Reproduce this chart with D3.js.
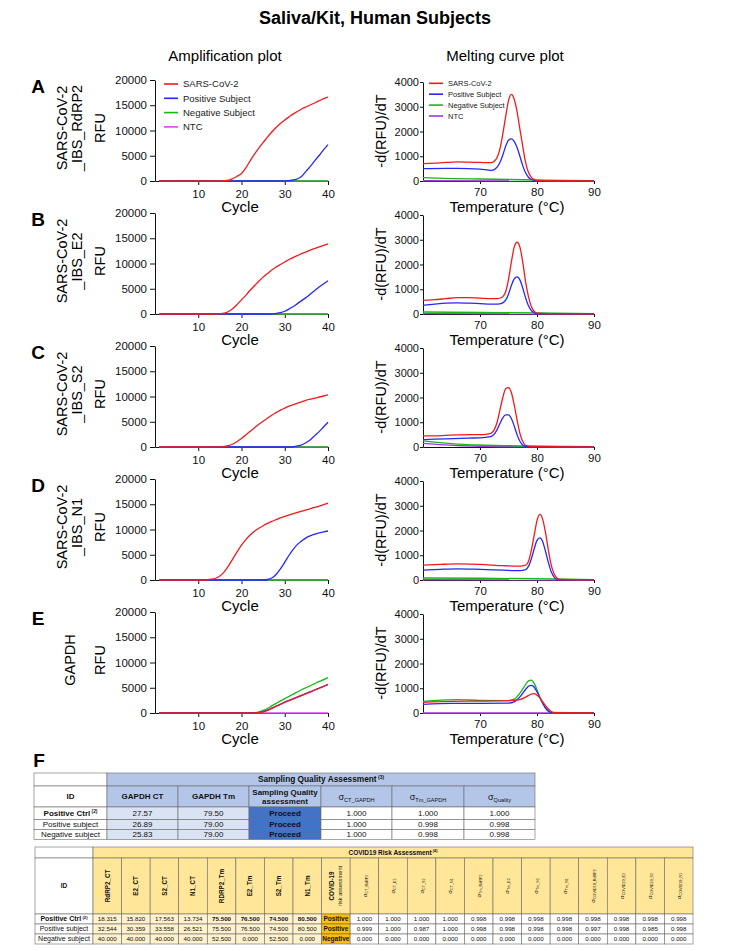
<!DOCTYPE html>
<html><head><meta charset="utf-8">
<script src="https://cdn.jsdelivr.net/npm/d3@7"></script>
<style>body{margin:0;background:#fff} svg{display:block;font-family:"Liberation Sans",Arial,sans-serif}</style>
</head><body><svg id="c" width="751" height="951"></svg>
<script>
// ---------------- DATA ----------------
const mainTitle = "Saliva/Kit, Human Subjects";
const colTitles = ["Amplification plot","Melting curve plot"];
const seriesNames = ["SARS-CoV-2","Positive Subject","Negative Subject","NTC"];
const rowLetters = ["A","B","C","D","E"];
const rowTitles = [["SARS-CoV-2","_IBS_RdRP2"],["SARS-CoV-2","_IBS_E2"],["SARS-CoV-2","_IBS_S2"],["SARS-CoV-2","_IBS_N1"],["GAPDH"]];
const ampTicksX = [10,20,30,40];
const ampTicksY = [0,5000,10000,15000,20000];
const meltTicksX = [70,80,90];
const meltTicksY = [0,1000,2000,3000,4000];

// Amplification curves: [cycle, RFU]
const ampA_red = [[1,0],[14,0],[16,50],[17,150],[18,500],[19,950],[20,1500],[21,2600],[22,4000],[23,5300],[24,6500],[25,7600],[26,8700],[27,9700],[28,10600],[29,11400],[30,12100],[31,12700],[32,13300],[33,13800],[34,14300],[35,14700],[36,15100],[37,15500],[38,15900],[39,16300],[40,16600]];
const ampA_blue = [[1,0],[30,0],[31,80],[32,200],[33,450],[34,1000],[35,2000],[36,3000],[37,4100],[38,5100],[39,6200],[40,7200]];
const ampA_green = [[1,0],[40,0]];
const ampA_ntc = [[1,0],[40,0]];

const ampB_red = [[1,0],[14,0],[15,50],[16,150],[17,500],[18,1100],[19,1900],[20,2800],[21,3700],[22,4700],[23,5600],[24,6500],[25,7300],[26,8000],[27,8700],[28,9300],[29,9800],[30,10300],[31,10800],[32,11200],[33,11600],[34,12000],[35,12300],[36,12700],[37,13000],[38,13300],[39,13600],[40,13900]];
const ampB_blue = [[1,0],[27,0],[28,100],[29,250],[30,550],[31,1000],[32,1500],[33,2100],[34,2700],[35,3300],[36,4000],[37,4700],[38,5400],[39,6000],[40,6600]];
const ampB_green = [[1,0],[40,0]];
const ampB_ntc = [[1,0],[40,0]];

const ampC_red = [[1,0],[14,0],[15,40],[16,100],[17,250],[18,600],[19,1100],[20,1700],[21,2400],[22,3100],[23,3800],[24,4500],[25,5100],[26,5700],[27,6300],[28,6800],[29,7300],[30,7700],[31,8100],[32,8400],[33,8700],[34,9000],[35,9300],[36,9500],[37,9700],[38,9900],[39,10100],[40,10300]];
const ampC_blue = [[1,0],[31,0],[32,50],[33,200],[34,450],[35,900],[36,1500],[37,2300],[38,3100],[39,4000],[40,4900]];
const ampC_green = [[1,0],[40,0]];
const ampC_ntc = [[1,0],[40,0]];

const ampD_red = [[1,0],[11,0],[12,50],[13,150],[14,350],[15,800],[16,1600],[17,2800],[18,4200],[19,5600],[20,6900],[21,8000],[22,8900],[23,9650],[24,10250],[25,10750],[26,11200],[27,11600],[28,11950],[29,12300],[30,12600],[32,13150],[34,13650],[36,14150],[38,14650],[40,15200]];
const ampD_blue = [[1,0],[25,0],[26,100],[27,400],[28,1100],[29,2200],[30,3500],[31,4900],[32,6100],[33,7100],[34,7800],[35,8400],[36,8800],[37,9100],[38,9350],[39,9550],[40,9700]];
const ampD_green = [[1,0],[40,0]];
const ampD_ntc = [[1,0],[40,0]];

const ampE_red = [[1,0],[23,0],[24,50],[25,200],[26,500],[27,900],[28,1300],[29,1700],[30,2100],[31,2450],[32,2800],[33,3150],[34,3500],[35,3850],[36,4200],[37,4550],[38,4900],[39,5250],[40,5600]];
const ampE_blue = [[1,0],[23,0],[24,60],[25,250],[26,550],[27,950],[28,1350],[29,1750],[30,2150],[31,2500],[32,2850],[33,3200],[34,3550],[35,3900],[36,4250],[37,4600],[38,4950],[39,5300],[40,5700]];
const ampE_green = [[1,0],[22,0],[23,50],[24,200],[25,500],[26,900],[27,1400],[28,1900],[29,2400],[30,2850],[31,3300],[32,3750],[33,4200],[34,4650],[35,5050],[36,5450],[37,5850],[38,6250],[39,6600],[40,7000]];
const ampE_ntc = [[1,0],[40,0]];

// Melting curves: [temperature, -d(RFU)/dT]
const meltA_red = [[60,700],[62,720],[64,750],[66,770],[68,760],[70,750],[72,740],[72.5,800],[73,950],[73.5,1300],[74,1900],[74.5,2600],[75,3250],[75.5,3500],[76,3300],[76.5,2800],[77,2100],[77.5,1400],[78,750],[78.5,350],[79,150],[79.5,60],[80,20],[82,10],[90,5]];
const meltA_blue = [[60,500],[64,510],[66,510],[70,480],[72,430],[72.5,460],[73,560],[73.5,750],[74,1050],[74.5,1400],[75,1650],[75.5,1700],[76,1600],[76.5,1350],[77,1000],[77.5,620],[78,330],[78.5,150],[79,60],[80,10],[90,5]];
const meltA_green = [[60,140],[65,100],[70,80],[75,60],[80,40],[85,20],[90,10]];
const meltA_ntc = [[60,10],[90,0]];

const meltB_red = [[60,550],[62,580],[64,620],[66,660],[68,660],[70,640],[72,620],[73,620],[74,700],[74.5,900],[75,1400],[75.5,2100],[76,2700],[76.5,2900],[77,2700],[77.5,2100],[78,1300],[78.5,700],[79,300],[79.5,110],[80,30],[82,10],[90,5]];
const meltB_blue = [[60,350],[62,400],[64,440],[66,450],[68,440],[70,420],[72,400],[73,400],[74,450],[74.5,560],[75,800],[75.5,1150],[76,1420],[76.5,1500],[77,1380],[77.5,1050],[78,650],[78.5,330],[79,140],[79.5,50],[80,10],[90,5]];
const meltB_green = [[60,80],[70,60],[80,40],[90,10]];
const meltB_ntc = [[60,15],[90,0]];

const meltC_red = [[60,450],[62,450],[64,470],[66,490],[68,500],[70,500],[71,510],[72,560],[72.5,700],[73,1000],[73.5,1500],[74,2000],[74.5,2350],[75,2400],[75.5,2200],[76,1700],[76.5,1100],[77,550],[77.5,220],[78,70],[79,15],[90,5]];
const meltC_blue = [[60,300],[64,330],[68,360],[70,370],[71,390],[72,430],[72.5,520],[73,700],[73.5,950],[74,1180],[74.5,1300],[75,1300],[75.5,1150],[76,850],[76.5,500],[77,230],[77.5,80],[78,20],[90,5]];
const meltC_green = [[60,250],[62,200],[65,140],[70,80],[75,50],[80,30],[90,10]];
const meltC_ntc = [[60,150],[63,100],[66,60],[70,30],[75,10],[90,0]];

const meltD_red = [[60,600],[63,630],[66,650],[70,630],[74,580],[77,560],[78,600],[78.5,750],[79,1200],[79.5,1800],[80,2400],[80.5,2650],[81,2450],[81.5,1900],[82,1200],[82.5,600],[83,250],[83.5,80],[84,20],[90,5]];
const meltD_blue = [[60,400],[63,430],[66,450],[70,430],[74,400],[77,380],[78,420],[78.5,550],[79,850],[79.5,1250],[80,1600],[80.5,1700],[81,1550],[81.5,1150],[82,700],[82.5,330],[83,120],[83.5,30],[84,5],[90,5]];
const meltD_green = [[60,80],[70,70],[80,50],[90,10]];
const meltD_ntc = [[60,10],[90,0]];

const meltE_red = [[60,430],[65,470],[70,480],[75,500],[77,540],[78,640],[79,760],[79.5,780],[80,720],[80.5,620],[81,450],[81.5,300],[82,160],[82.5,60],[83,15],[90,5]];
const meltE_blue = [[60,350],[65,390],[70,390],[75,400],[76,450],[77,650],[78,950],[78.5,1080],[79,1120],[79.5,1050],[80,850],[80.5,620],[81,400],[81.5,200],[82,70],[82.5,15],[90,5]];
const meltE_green = [[60,470],[63,520],[66,540],[70,510],[75,500],[76,560],[77,800],[78,1150],[78.5,1300],[79,1330],[79.5,1200],[80,940],[80.5,650],[81,400],[81.5,200],[82,80],[82.5,20],[90,5]];
const meltE_ntc = [[60,0],[90,0]];

// Table F (1): Sampling Quality Assessment
const t1Title = "Sampling Quality Assessment";
const t1Headers = ["GAPDH CT","GAPDH Tm","Sampling Quality|assessment"];
const t1SigmaHeaders = ["CT_GAPDH","Tm_GAPDH","Quality"];
const t1Ids = ["Positive Ctrl","Positive subject","Negative subject"];
const t1GapdhCT = ["27.57","26.89","25.83"];
const t1GapdhTm = ["79.50","79.00","79.00"];
const t1Assess = ["Proceed","Proceed","Proceed"];
const t1SigmaCT = ["1.000","1.000","1.000"];
const t1SigmaTm = ["1.000","0.998","0.998"];
const t1SigmaQ = ["1.000","0.998","0.998"];

// Table F (2): COVID19 Risk Assessment
const t2Title = "COVID19 Risk Assessment";
const t2ValHeaders = ["RdRP2_CT","E2_CT","S2_CT","N1_CT","RDRP2_Tm","E2_Tm","S2_Tm","N1_Tm"];
const t2SigmaHeaders = ["CT_RdRP2","CT_E2","CT_S2","CT_N1","Tm_RdRP2","Tm_E2","Tm_S2","Tm_N1","COVID19_RdRP2","COVID19_E2","COVID19_S2","COVID19_N1"];
const t2Ids = ["Positive Ctrl","Positive subject","Negative subject"];
const t2CT = [["18.315","15.820","17.563","13.734"],["32.544","30.359","33.558","26.521"],["40.000","40.000","40.000","40.000"]];
const t2Tm = [["75.500","76.500","74.500","80.500"],["75.500","76.500","74.500","80.500"],["52.500","0.000","52.500","0.000"]];
const t2Risk = ["Positive","Positive","Negative"];
const t2Sigma = [
  ["1.000","1.000","1.000","1.000","0.998","0.998","0.998","0.998","0.998","0.998","0.998","0.998"],
  ["0.999","1.000","0.987","1.000","0.998","0.998","0.998","0.998","0.997","0.998","0.985","0.998"],
  ["0.000","0.000","0.000","0.000","0.000","0.000","0.000","0.000","0.000","0.000","0.000","0.000"]];

// ---------------- DRAW ----------------
const ampRows = [[ampA_red,ampA_blue,ampA_green,ampA_ntc],[ampB_red,ampB_blue,ampB_green,ampB_ntc],[ampC_red,ampC_blue,ampC_green,ampC_ntc],[ampD_red,ampD_blue,ampD_green,ampD_ntc],[ampE_red,ampE_blue,ampE_green,ampE_ntc]];
const meltRows = [[meltA_red,meltA_blue,meltA_green,meltA_ntc],[meltB_red,meltB_blue,meltB_green,meltB_ntc],[meltC_red,meltC_blue,meltC_green,meltC_ntc],[meltD_red,meltD_blue,meltD_green,meltD_ntc],[meltE_red,meltE_blue,meltE_green,meltE_ntc]];
const colAmp = ["#f21b1b","#2626ff","#14b814","#dd44ee"];
const colMelt = ["#f21b1b","#2626ff","#14b814","#a633e0"];

const svg = d3.select("#c");
svg.append("text").attr("x",375).attr("y",18).attr("dy","0.35em").attr("text-anchor","middle")
  .attr("font-size",18).attr("font-weight","bold").text(mainTitle);
svg.append("text").attr("x",225).attr("y",56).attr("dy","0.35em").attr("text-anchor","middle").attr("font-size",15).text(colTitles[0]);
svg.append("text").attr("x",505).attr("y",56).attr("dy","0.35em").attr("text-anchor","middle").attr("font-size",15).text(colTitles[1]);

const rowH = 133;
const xAmp = d3.scaleLinear().domain([0,40]).range([155,328]);
const xMelt = d3.scaleLinear().domain([60,90]).range([423,594]);
const yAmp = d3.scaleLinear().domain([0,20000]).range([181,80]);
const yMelt = d3.scaleLinear().domain([0,4000]).range([181,82]);

const lineAmp = d3.line().x(d=>xAmp(d[0])).y(d=>yAmp(d[1])).curve(d3.curveMonotoneX);
const lineMelt = d3.line().x(d=>xMelt(d[0])).y(d=>yMelt(d[1])).curve(d3.curveMonotoneX);

function styleAxis(g, fs){
  g.selectAll("text").attr("font-size",fs).attr("fill","#111").attr("font-family",'"Liberation Sans",Arial,sans-serif');
  g.selectAll("path,line").attr("stroke","#111").attr("stroke-width",1);
}

rowLetters.forEach((L,i)=>{
  const g = svg.append("g").attr("transform",`translate(0,${i*rowH})`);
  g.append("text").attr("x",38).attr("y",86).attr("dy","0.35em").attr("text-anchor","middle")
    .attr("font-size",19).attr("font-weight","bold").text(L);
  const t = rowTitles[i];
  if (t.length===2){
    [62,77].forEach((x,k)=>g.append("text").attr("transform",`translate(${x},128) rotate(-90)`).attr("dy","0.35em")
      .attr("text-anchor","middle").attr("font-size",14.5).text(t[k]));
  } else {
    g.append("text").attr("transform",`translate(70,128) rotate(-90)`).attr("dy","0.35em")
      .attr("text-anchor","middle").attr("font-size",14.5).text(t[0]);
  }
  g.append("text").attr("transform",`translate(100,128) rotate(-90)`).attr("dy","0.35em")
    .attr("text-anchor","middle").attr("font-size",14.5).text("RFU");
  g.append("text").attr("transform",`translate(381,131) rotate(-90)`).attr("dy","0.35em")
    .attr("text-anchor","middle").attr("font-size",14.5).text("-d(RFU)/dT");

  const ax = g.append("g").attr("transform",`translate(0,${yAmp(0)})`)
    .call(d3.axisBottom(xAmp).tickValues(ampTicksX).tickSize(4).tickPadding(5).tickSizeOuter(0));
  styleAxis(ax,11.5);
  const ay = g.append("g").attr("transform",`translate(${xAmp(0)},0)`)
    .call(d3.axisLeft(yAmp).tickValues(ampTicksY).tickFormat(d3.format("d")).tickSize(5).tickPadding(3).tickSizeOuter(0));
  styleAxis(ay,11.5);
  g.append("text").attr("x",240).attr("y",yAmp(0)+26).attr("dy","0.35em").attr("text-anchor","middle").attr("font-size",15).text("Cycle");

  const mx = g.append("g").attr("transform",`translate(0,${yMelt(0)})`)
    .call(d3.axisBottom(xMelt).tickValues(meltTicksX).tickSize(3).tickPadding(4).tickSizeOuter(0));
  styleAxis(mx,11.5);
  const my = g.append("g").attr("transform",`translate(${xMelt(60)},0)`)
    .call(d3.axisLeft(yMelt).tickValues(meltTicksY).tickFormat(d3.format("d")).tickSize(3).tickPadding(1).tickSizeOuter(0));
  styleAxis(my,11);
  g.append("text").attr("x",507).attr("y",yMelt(0)+26).attr("dy","0.35em").attr("text-anchor","middle").attr("font-size",15).text("Temperature (°C)");

  [3,2,1,0].forEach(s=>{
    g.append("path").datum(ampRows[i][s]).attr("d",lineAmp).attr("fill","none").attr("stroke",colAmp[s]).attr("stroke-width",1.3);
    g.append("path").datum(meltRows[i][s]).attr("d",lineMelt).attr("fill","none").attr("stroke",colMelt[s]).attr("stroke-width",1.3);
  });

  if (i===0){
    seriesNames.forEach((n,s)=>{
      const yy = 84 + s*14.3;
      g.append("line").attr("x1",164).attr("x2",178).attr("y1",yy).attr("y2",yy).attr("stroke",colAmp[s]).attr("stroke-width",1.6);
      g.append("text").attr("x",183).attr("y",yy).attr("dy","0.35em").attr("font-size",9.5).attr("fill","#222").text(n);
      const ym = 83.3 + s*10.9;
      g.append("line").attr("x1",429).attr("x2",443).attr("y1",ym).attr("y2",ym).attr("stroke",colMelt[s]).attr("stroke-width",1.6);
      g.append("text").attr("x",448).attr("y",ym).attr("dy","0.35em").attr("font-size",7.5).attr("fill","#222").text(n);
    });
  }
});

// ---------------- TABLES ----------------
svg.append("text").attr("x",39).attr("y",760).attr("dy","0.35em").attr("text-anchor","middle")
  .attr("font-size",19).attr("font-weight","bold").text("F");

const tg = svg.append("g");
function cell(x0,y0,x1,y1,fill){
  tg.append("rect").attr("x",x0).attr("y",y0).attr("width",x1-x0).attr("height",y1-y0)
    .attr("fill",fill).attr("stroke","#6a6a6a").attr("stroke-width",0.6);
}
function txt(x,y,s,fs,bold,sup){
  const t = tg.append("text").attr("x",x).attr("y",y).attr("dy","0.35em").attr("text-anchor","middle")
    .attr("font-size",fs).attr("font-weight",bold?"bold":"normal").attr("fill","#111").text(s);
  if (sup){ t.append("tspan").attr("font-size",fs*0.6).attr("dy","-0.6em").text(" "+sup); }
  return t;
}
function sigmaTxt(x,y,sub,fs,rot){
  const t = tg.append("text").attr("text-anchor","middle").attr("font-size",fs).attr("fill","#111").attr("dy","0.35em");
  if (rot) t.attr("transform",`translate(${x},${y}) rotate(-90)`); else t.attr("x",x).attr("y",y);
  t.text("σ");
  t.append("tspan").attr("font-size",fs*0.62).attr("baseline-shift","-25%").text(sub);
}

// Table 1
const c1 = [34,107,178,249,321,392,464,535];
const r1 = [773,786,807,819.5,829.5,839.5];
const blueH = "#b4c6e7", blueL = "#dae3f3", blueD = "#4472c4";
cell(c1[0],r1[0],c1[1],r1[1],"#fff");
cell(c1[1],r1[0],c1[7],r1[1],blueH);
txt((c1[1]+c1[7])/2,(r1[0]+r1[1])/2,t1Title,8.3,true,"(3)");
cell(c1[0],r1[1],c1[1],r1[2],"#fff");
txt((c1[0]+c1[1])/2,(r1[1]+r1[2])/2,"ID",8,true);
t1Headers.forEach((h,k)=>{
  cell(c1[k+1],r1[1],c1[k+2],r1[2],blueH);
  const parts = h.split("|"), cx=(c1[k+1]+c1[k+2])/2, cy=(r1[1]+r1[2])/2;
  if (parts.length===1) txt(cx,cy,parts[0],8,true);
  else { txt(cx,cy-4.5,parts[0],8,true); txt(cx,cy+4.5,parts[1],8,true); }
});
t1SigmaHeaders.forEach((h,k)=>{
  cell(c1[k+4],r1[1],c1[k+5],r1[2],blueH);
  sigmaTxt((c1[k+4]+c1[k+5])/2,(r1[1]+r1[2])/2,h,9,false);
});
t1Ids.forEach((id,r)=>{
  const y0=r1[r+2], y1=r1[r+3], cy=(y0+y1)/2;
  const vals = [t1GapdhCT[r],t1GapdhTm[r],t1Assess[r],t1SigmaCT[r],t1SigmaTm[r],t1SigmaQ[r]];
  const fills = ["#fff",blueL,blueL,blueD,"#fff","#fff","#fff"];
  cell(c1[0],y0,c1[1],y1,fills[0]);
  txt((c1[0]+c1[1])/2,cy,id,8,r===0,r===0?"(2)":null);
  vals.forEach((v,k)=>{
    cell(c1[k+1],y0,c1[k+2],y1,fills[k+1]);
    txt((c1[k+1]+c1[k+2])/2,cy,v,8,k===2);
  });
});

// Table 2
const nCols2 = 21;
const x2 = d3.scaleLinear().domain([0,nCols2]).range([93,693]);
const r2 = [847,858,914,924,934,944];
const yelH = "#ffe699", yelL = "#fff2cc", orange = "#ffc000";
cell(35,r2[0],93,r2[1],"#fff");
cell(93,r2[0],693,r2[1],yelH);
txt(393,(r2[0]+r2[1])/2,t2Title,6.5,true,"(4)");
cell(35,r2[1],93,r2[2],"#fff");
txt(64,(r2[1]+r2[2])/2,"ID",6.5,true);
const hcy = (r2[1]+r2[2])/2;
t2ValHeaders.forEach((h,k)=>{
  cell(x2(k),r2[1],x2(k+1),r2[2],yelH);
  const cx=(x2(k)+x2(k+1))/2;
  tg.append("text").attr("transform",`translate(${cx},${hcy}) rotate(-90)`).attr("dy","0.35em").attr("text-anchor","middle")
    .attr("font-size",6.3).attr("font-weight","bold").attr("fill","#111").text(h);
});
{
  const k=8, cx=(x2(k)+x2(k+1))/2;
  cell(x2(k),r2[1],x2(k+1),r2[2],yelH);
  tg.append("text").attr("transform",`translate(${cx-4},${hcy}) rotate(-90)`).attr("dy","0.35em").attr("text-anchor","middle")
    .attr("font-size",6.3).attr("font-weight","bold").attr("fill","#111").text("COVID-19");
  tg.append("text").attr("transform",`translate(${cx+4.5},${hcy}) rotate(-90)`).attr("dy","0.35em").attr("text-anchor","middle")
    .attr("font-size",5.6).attr("fill","#111").text("risk assessment");
}
t2SigmaHeaders.forEach((h,j)=>{
  const k=9+j;
  cell(x2(k),r2[1],x2(k+1),r2[2],yelH);
  sigmaTxt((x2(k)+x2(k+1))/2,hcy,h,6,true);
});
t2Ids.forEach((id,r)=>{
  const y0=r2[r+2], y1=r2[r+3], cy=(y0+y1)/2;
  cell(35,y0,93,y1,"#fff");
  txt(64,cy,id,7,r===0,r===0?"(2)":null);
  const vals = t2CT[r].concat(t2Tm[r]);
  vals.forEach((v,k)=>{
    cell(x2(k),y0,x2(k+1),y1,yelL);
    txt((x2(k)+x2(k+1))/2,cy,v,6.2,r===0&&k>=4);
  });
  cell(x2(8),y0,x2(9),y1,orange);
  txt((x2(8)+x2(9))/2,cy,t2Risk[r],6.5,true);
  t2Sigma[r].forEach((v,j)=>{
    const k=9+j;
    cell(x2(k),y0,x2(k+1),y1,"#fff");
    txt((x2(k)+x2(k+1))/2,cy,v,6.2,false);
  });
});
</script></body></html>
